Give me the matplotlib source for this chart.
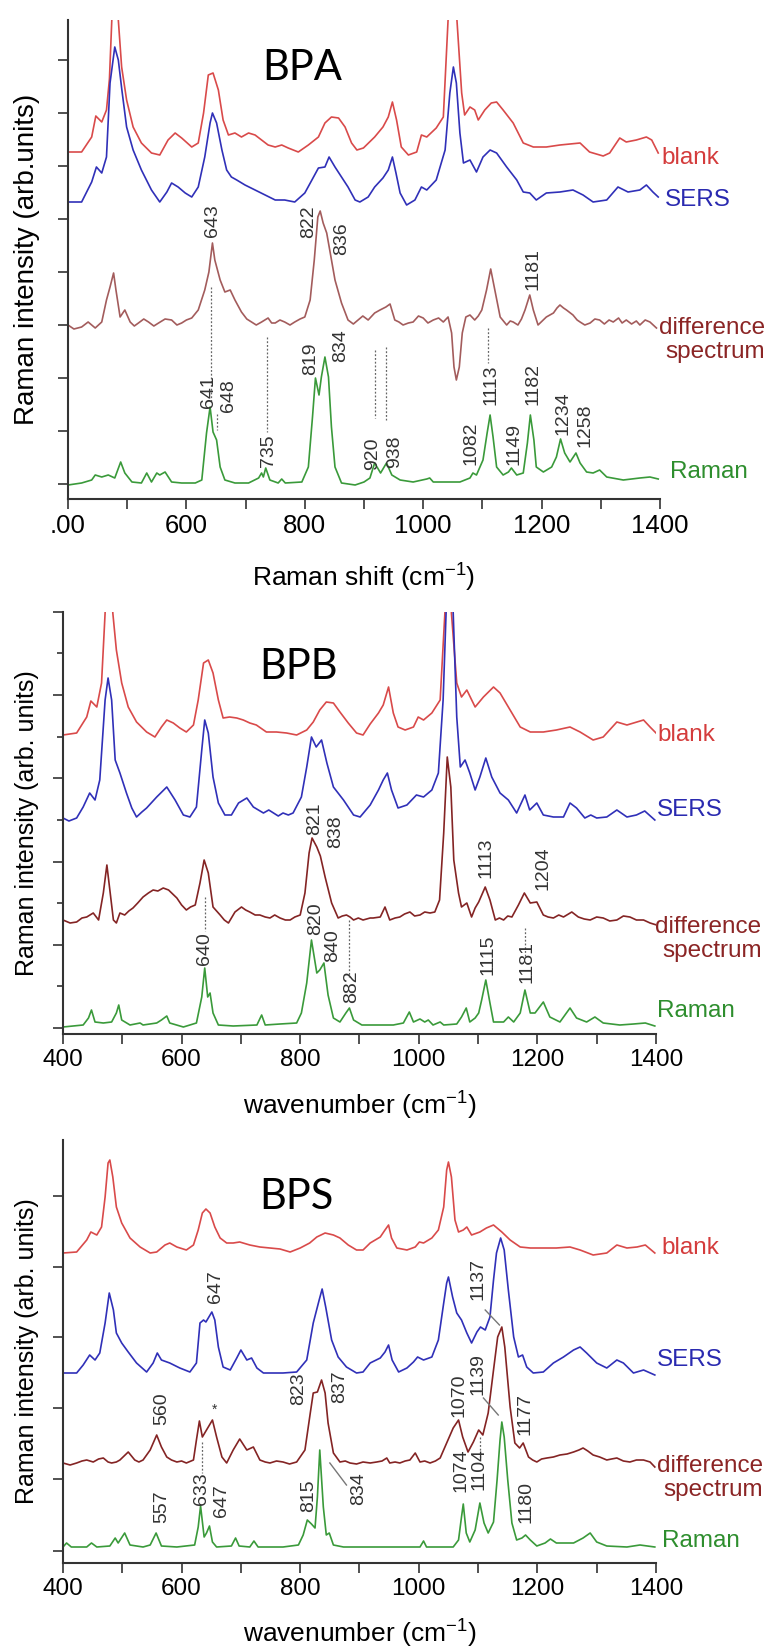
import numpy as np
import matplotlib.pyplot as plt
from matplotlib.ticker import MultipleLocator

plt.rcParams['font.family'] = ['Liberation Sans', 'DejaVu Sans']
plt.rcParams['mathtext.fontset'] = 'custom'
plt.rcParams['mathtext.rm'] = 'Liberation Sans'
plt.rcParams['mathtext.it'] = 'Liberation Sans:italic'
plt.rcParams['mathtext.bf'] = 'Liberation Sans:bold'

# colours
c_blank = '#d94a4a'
c_sers = '#3030b8'
c_raman = '#3a9a3a'
c_diff1 = '#a35c5c'
c_diff = '#842424'
t_blank = '#d43c3c'
t_sers = '#2a2ab0'
t_diff = '#8b2525'
t_raman = '#2e8e2e'

# ---------------- BPA (wavenumber, intensity) ----------------
bpa_blank = [(400, 347), (423, 347), (440, 362), (447, 383), (457, 377), (465, 389), (470, 420),
             (474, 479), (479, 650), (485, 479), (490.6, 432), (499, 399), (510, 372), (524, 356),
             (541, 346), (555, 344), (569, 359), (581, 366), (592, 361), (609, 352), (620, 356),
             (629, 386), (637, 424), (645, 426), (654, 409), (662, 379), (671, 364), (682, 366),
             (693, 362), (705, 366), (716, 364), (727, 359), (738, 354), (750, 352), (761, 354),
             (772, 351), (789, 347), (806, 354), (823, 362), (834, 376), (845, 382), (857, 381),
             (868, 372), (879, 356), (888, 349), (899, 351), (918, 362), (932, 372), (941, 382),
             (948, 397), (955, 379), (963, 352), (975, 344), (989, 347), (997, 364), (1006, 362),
             (1022, 371), (1034, 382), (1042, 479), (1050, 650), (1057, 479), (1065, 406),
             (1070, 384), (1079, 392), (1087, 389), (1093, 379), (1104, 389), (1115, 396),
             (1124, 397), (1135, 389), (1152, 376), (1169, 356), (1186, 352), (1208, 352),
             (1231, 354), (1248, 355), (1265, 356), (1281, 347), (1304, 343), (1315, 346),
             (1332, 361), (1343, 357), (1360, 359), (1377, 362), (1386, 359), (1397, 346)]
bpa_sers = [(400, 297), (423, 297), (440, 317), (448, 332), (457, 326), (465, 342), (471, 416),
            (479, 452), (485, 439), (491, 409), (499, 372), (510, 349), (524, 329), (541, 309),
            (555, 297), (567, 307), (575, 316), (586, 312), (598, 306), (609, 302), (620, 312),
            (631, 342), (640, 376), (644, 386), (651, 376), (660, 349), (668, 329), (676, 322),
            (685, 319), (699, 314), (716, 309), (733, 304), (750, 299), (766, 299), (783, 297),
            (800, 306), (812, 319), (823, 331), (834, 332), (841, 342), (851, 332), (862, 322),
            (873, 312), (885, 299), (893, 297), (907, 302), (918, 312), (932, 321), (941, 329),
            (948, 342), (954, 326), (961, 306), (972, 294), (986, 299), (997, 312), (1006, 309),
            (1022, 319), (1037, 349), (1045, 406), (1051, 432), (1056, 416), (1062, 366),
            (1068, 336), (1079, 339), (1090, 327), (1101, 342), (1113, 349), (1124, 346),
            (1141, 332), (1158, 319), (1169, 307), (1180, 306), (1191, 299), (1208, 306),
            (1231, 307), (1253, 309), (1270, 304), (1287, 297), (1310, 299), (1329, 312),
            (1346, 307), (1366, 309), (1377, 314), (1388, 307), (1397, 302)]
bpa_diff = [(400, 174), (410, 170), (423, 172), (434, 177), (446, 171), (457, 177), (465, 199),
            (471, 212), (477, 226), (481, 209), (488, 182), (496, 189), (505, 177), (512, 173),
            (519, 176), (528, 180), (536, 177), (545, 173), (553, 176), (564, 180), (575, 179),
            (584, 174), (592, 176), (600, 179), (609, 181), (620, 189), (631, 209), (638, 227),
            (644, 256), (648, 239), (657, 219), (665, 207), (674, 209), (682, 199), (693, 187),
            (702, 180), (710, 177), (718, 174), (727, 177), (738, 181), (744, 176), (750, 176),
            (758, 179), (766, 177), (775, 174), (783, 177), (792, 180), (800, 182), (809, 199),
            (816, 239), (822, 282), (826, 288), (831, 276), (837, 266), (843, 246), (851, 219),
            (862, 196), (873, 179), (882, 175), (890, 179), (898, 183), (907, 179), (918, 186),
            (927, 189), (937, 192), (944, 195), (952, 179), (959, 177), (966, 174), (975, 176),
            (983, 177), (992, 183), (1000, 181), (1008, 176), (1017, 179), (1026, 181),
            (1034, 177), (1042, 182), (1048, 166), (1052, 132), (1056, 119), (1061, 132),
            (1066, 166), (1072, 182), (1079, 184), (1087, 179), (1093, 183), (1099, 189),
            (1107, 209), (1114, 230), (1121, 209), (1130, 182), (1141, 174), (1147, 178),
            (1152, 177), (1160, 174), (1166, 180), (1172, 189), (1180, 204), (1186, 189),
            (1194, 174), (1201, 178), (1208, 182), (1220, 186), (1226, 191), (1231, 194),
            (1237, 191), (1242, 189), (1253, 184), (1260, 179), (1265, 177), (1273, 174),
            (1282, 176), (1290, 180), (1298, 179), (1306, 175), (1314, 179), (1321, 177),
            (1330, 181), (1336, 176), (1343, 179), (1352, 175), (1360, 178), (1366, 174),
            (1375, 179), (1383, 177), (1394, 171)]
bpa_raman = [(400, 14), (423, 16), (440, 19), (446, 24), (457, 22), (468, 24), (479, 21), (489, 37),
             (496, 26), (508, 17), (524, 16), (533, 26), (541, 17), (550, 26), (555, 24), (564, 27),
             (575, 17), (592, 16), (615, 16), (626, 19), (634, 66), (640, 92), (645, 67), (651, 59),
             (657, 32), (665, 19), (682, 16), (705, 16), (722, 21), (727, 26), (730, 22), (734, 31),
             (741, 19), (755, 16), (761, 20), (767, 16), (795, 17), (806, 32), (813, 82), (818, 121),
             (824, 104), (828, 122), (834, 142), (840, 122), (845, 72), (851, 32), (862, 16),
             (885, 14), (900, 17), (910, 21), (918, 36), (928, 26), (938, 36), (947, 24), (961, 19),
             (983, 17), (1006, 20), (1011, 21), (1017, 17), (1039, 17), (1062, 17), (1079, 21),
             (1084, 26), (1090, 24), (1101, 39), (1108, 66), (1113, 84), (1118, 62), (1124, 32),
             (1135, 24), (1144, 27), (1149, 31), (1158, 24), (1169, 26), (1176, 56), (1181, 84),
             (1187, 59), (1191, 32), (1203, 27), (1217, 32), (1225, 42), (1232, 60), (1239, 46),
             (1248, 37), (1258, 46), (1265, 36), (1276, 27), (1287, 26), (1298, 29), (1310, 22),
             (1338, 19), (1366, 21), (1383, 22), (1397, 20)]
bpa_peaks = [("643", 644, 262), ("822", 807, 261), ("836", 863, 244), ("641", 638, 91),
             ("648", 671, 87), ("735", 738, 32), ("819", 810, 124), ("834", 861, 137),
             ("920", 915, 29), ("938", 951, 31), ("1082", 1080, 34), ("1113", 1114, 94),
             ("1149", 1153, 34), ("1181", 1186, 209), ("1182", 1186, 94), ("1234", 1236, 64),
             ("1258", 1273, 52)]
bpa_dots = [(641.5, 212, 96), (651, 85, 69), (735.5, 162, 67), (918, 149, 81), (938, 152, 79),
            (1110, 171, 136)]
bpa_leaders = []
bpa_tags = [(1403, 341), (1408, 299), (1578, 159), (1417, 27)]

# ---------------- BPB ----------------
bpb_blank = [(400, 299), (423, 301), (440, 317), (447, 333), (457, 327), (465, 351), (471, 421),
             (478, 560), (484, 421), (490, 384), (499, 351), (510, 327), (524, 312), (541, 302),
             (555, 297), (566, 307), (575, 314), (586, 311), (597, 306), (608, 302), (620, 309),
             (628, 334), (637, 371), (645, 374), (653, 361), (662, 334), (670, 316), (681, 317),
             (693, 316), (704, 314), (715, 311), (726, 309), (743, 302), (760, 302), (777, 301),
             (794, 299), (811, 304), (822, 312), (833, 324), (844, 332), (856, 331), (867, 322),
             (881, 311), (895, 301), (906, 299), (918, 310), (932, 321), (940, 329), (949, 347),
             (957, 321), (965, 307), (977, 304), (991, 307), (999, 317), (1008, 314), (1022, 321),
             (1036, 334), (1044, 421), (1050, 560), (1055, 421), (1064, 351), (1072, 337),
             (1081, 344), (1095, 327), (1109, 337), (1126, 347), (1137, 341), (1154, 324),
             (1171, 307), (1188, 302), (1210, 302), (1232, 304), (1255, 307), (1272, 302),
             (1294, 294), (1311, 297), (1334, 312), (1351, 309), (1379, 314), (1390, 307),
             (1400, 301)]
bpb_sers = [(400, 216), (410, 213), (423, 216), (434, 227), (445, 241), (454, 234), (462, 254),
            (471, 334), (476, 356), (482, 334), (488, 274), (496, 261), (507, 241), (516, 226),
            (524, 217), (533, 222), (541, 226), (558, 237), (575, 247), (589, 234), (603, 219),
            (614, 217), (625, 227), (634, 284), (639, 314), (645, 301), (653, 257), (662, 231),
            (673, 219), (684, 219), (696, 231), (710, 236), (721, 227), (738, 221), (747, 224),
            (755, 221), (763, 218), (771, 221), (780, 219), (788, 221), (802, 237), (811, 267),
            (819, 297), (827, 287), (836, 294), (845, 271), (856, 247), (873, 234), (890, 219),
            (901, 217), (918, 229), (932, 244), (940, 254), (947, 261), (954, 244), (965, 226),
            (980, 229), (996, 239), (1008, 237), (1022, 244), (1033, 261), (1041, 334),
            (1046, 421), (1052, 520), (1058, 421), (1064, 317), (1070, 267), (1078, 274),
            (1086, 261), (1095, 244), (1103, 257), (1113, 276), (1123, 257), (1137, 241),
            (1151, 234), (1165, 221), (1179, 239), (1187, 224), (1199, 231), (1210, 219),
            (1227, 217), (1244, 217), (1255, 231), (1266, 226), (1280, 216), (1290, 219),
            (1300, 216), (1317, 217), (1334, 224), (1351, 217), (1367, 219), (1381, 223),
            (1398, 214)]
bpb_diff = [(400, 114), (412, 111), (423, 112), (432, 116), (440, 117), (451, 121), (460, 114),
            (468, 141), (474, 169), (479, 144), (485, 114), (490, 111), (496, 121), (504, 119),
            (511, 123), (518, 126), (526, 131), (535, 137), (544, 141), (552, 144), (560, 143),
            (569, 146), (578, 144), (585, 140), (592, 136), (600, 129), (608, 124), (615, 127),
            (623, 129), (631, 151), (638, 174), (645, 161), (653, 127), (665, 119), (672, 114),
            (679, 111), (690, 122), (701, 127), (708, 124), (715, 122), (724, 119), (732, 119),
            (741, 117), (749, 116), (757, 119), (766, 116), (775, 114), (783, 114), (791, 117),
            (800, 119), (808, 141), (815, 181), (820, 196), (828, 187), (834, 178), (842, 157),
            (853, 131), (864, 116), (871, 118), (878, 119), (884, 117), (890, 114), (898, 116),
            (906, 114), (918, 116), (923, 116), (935, 117), (943, 127), (951, 114), (960, 116),
            (968, 117), (976, 120), (985, 122), (993, 118), (1002, 119), (1010, 122), (1019, 121),
            (1027, 122), (1035, 134), (1042, 201), (1048, 277), (1054, 247), (1059, 174),
            (1067, 141), (1072, 127), (1081, 131), (1089, 117), (1095, 126), (1101, 132),
            (1112, 147), (1120, 134), (1129, 114), (1136, 116), (1143, 114), (1150, 118),
            (1157, 117), (1168, 129), (1178, 141), (1188, 131), (1199, 132), (1210, 119),
            (1218, 117), (1227, 116), (1236, 119), (1244, 117), (1258, 122), (1269, 117),
            (1279, 115), (1289, 114), (1300, 117), (1311, 116), (1322, 113), (1334, 114),
            (1345, 118), (1356, 117), (1367, 114), (1379, 114), (1390, 111), (1401, 109)]
bpb_raman = [(400, 7), (434, 9), (443, 16), (448, 24), (454, 12), (468, 11), (482, 12), (490, 21),
             (494, 29), (499, 14), (513, 9), (530, 11), (535, 9), (558, 11), (566, 14), (575, 18),
             (580, 11), (603, 7), (625, 11), (634, 37), (639, 66), (644, 37), (648, 41), (653, 21),
             (662, 9), (687, 8), (727, 9), (735, 19), (741, 9), (766, 10), (794, 11), (802, 21),
             (811, 51), (819, 94), (828, 61), (833, 64), (840, 71), (847, 39), (856, 16), (867, 12),
             (877, 21), (883, 26), (890, 14), (904, 9), (957, 9), (974, 11), (984, 22), (991, 12),
             (1002, 15), (1010, 12), (1016, 14), (1024, 9), (1036, 12), (1042, 9), (1064, 10),
             (1072, 17), (1080, 26), (1086, 12), (1095, 16), (1101, 21), (1106, 34), (1113, 54),
             (1120, 31), (1126, 12), (1143, 12), (1151, 17), (1160, 12), (1171, 21), (1179, 44),
             (1188, 21), (1196, 21), (1210, 32), (1221, 17), (1238, 12), (1255, 26), (1266, 16),
             (1283, 12), (1297, 17), (1311, 11), (1339, 9), (1362, 10), (1382, 11), (1398, 8)]
bpb_peaks = [("821", 825, 199), ("838", 859, 186), ("640", 639, 69), ("820", 826, 99),
             ("840", 854, 72), ("882", 886, 31), ("1113", 1114, 156), ("1204", 1209, 144),
             ("1115", 1117, 59), ("1181", 1182, 51)]
bpb_dots = [(639, 137, 103), (883, 114, 57), (1179, 106, 76)]
bpb_leaders = []
bpb_tags = [(1402, 299), (1402, 224), (1578, 95), (1402, 23)]

# ---------------- BPS ----------------
bps_blank = [(400, 310), (423, 311), (440, 323), (447, 331), (457, 328), (465, 336), (471, 366),
             (476, 400), (479, 403), (484, 386), (490, 356), (499, 340), (513, 325), (530, 316),
             (547, 310), (558, 311), (572, 318), (580, 320), (592, 316), (608, 313), (620, 318),
             (628, 333), (635, 350), (641, 354), (648, 350), (656, 336), (665, 325), (676, 320),
             (687, 320), (698, 321), (715, 318), (732, 316), (749, 315), (766, 314), (783, 311),
             (800, 315), (816, 320), (828, 326), (842, 330), (856, 328), (867, 325), (881, 318),
             (895, 313), (906, 313), (918, 320), (935, 326), (943, 333), (949, 338), (954, 325),
             (963, 315), (980, 313), (994, 316), (1001, 321), (1008, 320), (1022, 325),
             (1033, 333), (1042, 356), (1047, 393), (1050, 401), (1055, 386), (1061, 343),
             (1067, 331), (1075, 333), (1081, 336), (1089, 328), (1103, 331), (1114, 335),
             (1126, 338), (1140, 331), (1154, 323), (1171, 316), (1188, 315), (1210, 315),
             (1232, 315), (1255, 316), (1272, 313), (1294, 308), (1317, 310), (1334, 318),
             (1351, 315), (1368, 316), (1382, 318), (1398, 310)]
bps_sers = [(400, 190), (423, 190), (434, 198), (445, 208), (454, 203), (462, 210), (471, 240),
            (478, 270), (485, 253), (490, 230), (499, 220), (510, 211), (524, 200), (541, 191),
            (552, 200), (559, 210), (566, 203), (580, 200), (597, 195), (614, 191), (625, 200),
            (631, 240), (637, 243), (641, 241), (651, 251), (656, 243), (662, 216), (670, 196),
            (682, 193), (693, 205), (700, 213), (710, 203), (718, 205), (727, 195), (738, 190),
            (755, 190), (771, 190), (794, 191), (811, 203), (822, 240), (832, 263), (837, 274),
            (843, 256), (853, 223), (864, 206), (878, 196), (895, 190), (906, 191), (918, 200),
            (935, 205), (943, 211), (949, 218), (955, 203), (966, 191), (980, 195), (991, 201),
            (998, 206), (1008, 203), (1022, 206), (1033, 223), (1042, 260), (1047, 280),
            (1050, 286), (1057, 266), (1064, 250), (1072, 243), (1081, 230), (1089, 220),
            (1098, 231), (1104, 236), (1112, 233), (1120, 246), (1126, 283), (1131, 310),
            (1138, 325), (1144, 313), (1151, 273), (1160, 226), (1168, 206), (1175, 208),
            (1182, 196), (1193, 190), (1210, 191), (1227, 200), (1244, 206), (1261, 213),
            (1272, 216), (1283, 210), (1300, 200), (1317, 195), (1334, 203), (1345, 200),
            (1362, 190), (1379, 193), (1398, 188)]
bps_diff = [(400, 100), (412, 98), (423, 100), (432, 102), (440, 103), (451, 101), (460, 104),
            (468, 105), (476, 101), (482, 100), (490, 101), (496, 103), (503, 107), (510, 111),
            (521, 103), (528, 101), (535, 103), (547, 113), (558, 128), (566, 116), (575, 106),
            (583, 103), (592, 101), (600, 102), (608, 100), (620, 103), (625, 123), (630, 142),
            (635, 126), (642, 133), (652, 143), (659, 126), (668, 106), (676, 100), (687, 113),
            (698, 124), (710, 113), (721, 116), (732, 103), (741, 101), (749, 100), (760, 102),
            (771, 101), (782, 99), (794, 101), (808, 113), (817, 150), (822, 170), (829, 171),
            (836, 183), (842, 170), (847, 140), (856, 110), (867, 101), (876, 102), (884, 100),
            (895, 99), (906, 101), (918, 100), (929, 101), (938, 102), (946, 105), (951, 100),
            (960, 101), (968, 100), (977, 102), (985, 103), (994, 110), (1002, 101), (1010, 102),
            (1019, 100), (1028, 102), (1036, 105), (1047, 120), (1058, 135), (1067, 143),
            (1074, 126), (1083, 111), (1092, 121), (1101, 133), (1108, 128), (1117, 150),
            (1126, 193), (1133, 226), (1140, 236), (1145, 216), (1154, 156), (1162, 120),
            (1170, 115), (1176, 120), (1185, 106), (1192, 103), (1199, 101), (1207, 104),
            (1216, 105), (1227, 106), (1238, 108), (1250, 109), (1261, 111), (1270, 113),
            (1277, 115), (1285, 112), (1294, 108), (1305, 106), (1317, 103), (1325, 104),
            (1334, 105), (1345, 102), (1356, 101), (1367, 103), (1379, 103), (1390, 101),
            (1398, 96)]
bps_raman = [(400, 16), (406, 20), (414, 16), (440, 16), (448, 20), (457, 16), (479, 17), (488, 25),
             (493, 20), (504, 30), (513, 18), (535, 16), (547, 18), (557, 30), (566, 17), (592, 16),
             (622, 18), (628, 36), (632, 57), (638, 26), (642, 30), (647, 37), (652, 21), (659, 16),
             (684, 17), (691, 25), (697, 17), (715, 16), (722, 22), (729, 16), (771, 16), (797, 18),
             (805, 28), (812, 43), (819, 39), (825, 35), (829, 66), (833, 113), (839, 56), (844, 28),
             (849, 30), (856, 18), (873, 16), (1002, 16), (1008, 22), (1013, 16), (1058, 16),
             (1067, 23), (1072, 46), (1075, 59), (1080, 30), (1086, 21), (1095, 33), (1103, 60),
             (1110, 40), (1117, 30), (1126, 41), (1132, 83), (1137, 123), (1140, 141), (1144, 126),
             (1150, 83), (1157, 40), (1165, 23), (1174, 25), (1180, 28), (1188, 23), (1199, 17),
             (1213, 20), (1222, 24), (1232, 20), (1261, 20), (1277, 25), (1289, 30), (1300, 21),
             (1317, 17), (1351, 16), (1373, 18), (1398, 16)]
bps_peaks = [("647", 657, 260), ("560", 566, 138), ("823", 798, 158), ("837", 867, 160),
             ("557", 566, 40), ("633", 634, 58), ("647", 667, 46), ("815", 814, 51),
             ("834", 898, 58), ("1137", 1100, 263), ("1070", 1067, 146), ("1139", 1100, 168),
             ("1177", 1179, 128), ("1074", 1071, 71), ("1104", 1102, 73), ("1180", 1180, 40)]
bps_dots = [(634, 121, 90), (1103, 126, 105)]
bps_leaders = [(850, 100, 878, 78), (1112, 253, 1136, 238), (1109, 165, 1134, 148)]
bps_tags = [(1410, 315), (1402, 203), (1580, 85), (1410, 22)]

fig = plt.figure(figsize=(7.66, 16.47), dpi=100)


def panel(rect, name, name_xy, blank, sers, diff, raman, diff_col, ytop, yticks, yminor,
          peaks, dots, leaders, tags, xlab, xlab_y, ylab, ylab_x, ylab_size, xticklabels, tick_size):
    ax = fig.add_axes(rect)
    for data, col in [(blank, c_blank), (sers, c_sers), (diff, diff_col), (raman, c_raman)]:
        d = np.array(data, dtype=float)
        ax.plot(d[:, 0], d[:, 1], color=col, lw=1.2)
    for x, y0, y1 in dots:
        ax.plot([x, x], [y0, y1], color='#666666', lw=0.9, ls=(0, (1.5, 1.5)))
    for x0, y0, x1, y1 in leaders:
        ax.plot([x0, x1], [y0, y1], color='#777777', lw=1.0)
    for s, x, y in peaks:
        ax.text(x, y, s, rotation=90, ha='center', va='bottom', fontsize=14, color='#333333')
    ax.text(name_xy[0], name_xy[1], name, family='Lato', fontsize=30, ha='center', va='center')

    cols = [t_blank, t_sers, t_diff, t_raman]
    words = ['blank', 'SERS', 'difference\nspectrum', 'Raman']
    for (x, y), w, c in zip(tags, words, cols):
        ha = 'right' if '\n' in w else 'left'
        ax.text(x, y, w, color=c, fontsize=17.5, ha=ha, va='center', ma='right',
                linespacing=1.15, clip_on=False)

    ax.set_xlim(400, 1400)
    ax.set_ylim(0, ytop)
    ax.set_xticks(range(400, 1401, 200))
    ax.set_xticklabels(xticklabels)
    ax.xaxis.set_minor_locator(MultipleLocator(100))
    ax.set_yticks(yticks)
    ax.set_yticklabels([])
    if yminor:
        ax.set_yticks(yminor, minor=True)
    ax.tick_params(axis='both', which='major', direction='out', length=7, width=1.2,
                   color='#333333', labelsize=tick_size, pad=3.5)
    ax.tick_params(axis='x', which='minor', direction='out', length=7, width=1.2, color='#333333')
    ax.tick_params(axis='y', which='minor', direction='out', length=4, width=1.2, color='#333333')
    for sp in ['top', 'right']:
        ax.spines[sp].set_visible(False)
    for sp in ['left', 'bottom']:
        ax.spines[sp].set_linewidth(1.5)
        ax.spines[sp].set_color('#333333')
    ax.set_xlabel(xlab, fontsize=19, va='center')
    ax.xaxis.set_label_coords(0.5, xlab_y)
    ax.set_ylabel(ylab, fontsize=ylab_size, va='center')
    ax.yaxis.set_label_coords(ylab_x, 0.5)
    return ax


ticks_std = ['400', '600', '800', '1000', '1200', '1400']
ticks_bpa = ['.00', '600', '800', '1000', '1200', '1400']

panel([68 / 766, 1 - 499 / 1647, 592 / 766, 479 / 1647], 'BPA', (795, 431),
      bpa_blank, bpa_sers, bpa_diff, bpa_raman, c_diff1, 479,
      [15, 68, 121, 174, 227, 280, 333, 386, 439], None,
      bpa_peaks, bpa_dots, bpa_leaders, bpa_tags,
      'Raman shift (cm$^{-1}$)', -0.165, 'Raman intensity (arb.units)', -0.069, 20, ticks_bpa, 18.5)

panel([63 / 766, 1 - 1034 / 1647, 593 / 766, 422 / 1647], 'BPB', (798, 367),
      bpb_blank, bpb_sers, bpb_diff, bpb_raman, c_diff, 422,
      [6, 89, 172, 256, 339, 422], [48, 131, 214, 297, 381],
      bpb_peaks, bpb_dots, bpb_leaders, bpb_tags,
      'wavenumber (cm$^{-1}$)', -0.171, 'Raman intensity (arb. units)', -0.061, 18, ticks_std, 17.5)

ax3 = panel([63 / 766, 1 - 1563 / 1647, 593 / 766, 423 / 1647], 'BPS', (793, 366),
            bps_blank, bps_sers, bps_diff, bps_raman, c_diff, 423,
            [12, 84, 155, 226, 296, 367], None,
            bps_peaks, bps_dots, bps_leaders, bps_tags,
            'wavenumber (cm$^{-1}$)', -0.168, 'Raman intensity (arb. units)', -0.061, 18, ticks_std, 17.5)
# small asterisk over the 652 band of the difference spectrum
ax3.text(655, 146, '*', fontsize=10, ha='center', va='bottom', color='#333333')

fig.savefig('out.png', dpi=100)
